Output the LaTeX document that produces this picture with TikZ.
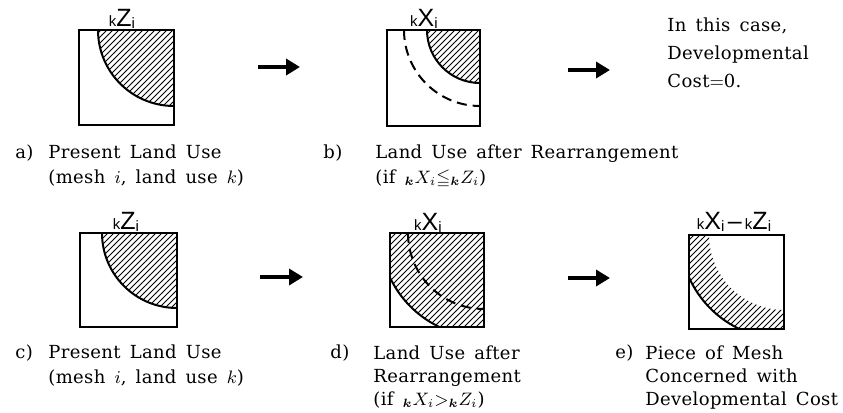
\documentclass[tikz,border=0pt]{standalone}
\usepackage{amsmath,amssymb}
\usepackage{fontspec}
\setmainfont[WordSpace=1.5,LetterSpace=2]{DejaVu Serif}
\setsansfont{Liberation Sans}
\usetikzlibrary{arrows.meta,patterns}

% small k in front, big letter, small i behind
\newcommand{\meshlbl}[1]{{\sffamily\fontsize{7.5}{8}\selectfont k}{\sffamily\fontsize{12.5}{13}\selectfont #1}{\sffamily\fontsize{7.5}{8}\selectfont\raisebox{-1pt}{i}}}

\begin{document}
\begin{tikzpicture}[x=0.5pt,y=-0.5pt,
  frame/.style={line width=1pt},
  edge/.style={line width=1pt},
  dashedge/.style={line width=1pt, dash pattern=on 5pt off 3pt},
  hatch/.style={pattern=north east lines},
  arr/.style={line width=2pt, -{Triangle[length=7pt,width=8pt]}},
  captxt/.style={anchor=base west, inner sep=0pt, align=left,
              font=\fontsize{9}{12.5}\selectfont},
  tag/.style={anchor=base west, inner sep=0pt, font=\fontsize{9}{12.5}\selectfont},
  mlbl/.style={anchor=base, inner sep=0pt}
]
\useasboundingbox (0,0) rectangle (843,413);

% a) present land use
\coordinate (trA) at (174,30);
\fill[hatch] (98,30) arc[start angle=180,end angle=90,radius=76] -- (trA) -- cycle;
\draw[edge] (98,30) arc[start angle=180,end angle=90,radius=76];
\draw[frame] (79,30) rectangle (174,125);
\node[mlbl] (lblA) at (122,26) {\meshlbl{Z}};

% b) after rearrangement, smaller
\coordinate (trB) at (480,30);
\fill[hatch] (427,30) arc[start angle=180,end angle=90,radius=53] -- (trB) -- cycle;
\draw[edge] (427,30) arc[start angle=180,end angle=90,radius=53];
\draw[dashedge] (404,30) arc[start angle=180,end angle=90,radius=76];
\draw[frame] (387,30) rectangle (480,126);
\node[mlbl] (lblB) at (424,26) {\meshlbl{X}};

% c) present land use
\coordinate (trC) at (177,233);
\fill[hatch] (102,233) arc[start angle=180,end angle=90,radius=75] -- (trC) -- cycle;
\draw[edge] (102,233) arc[start angle=180,end angle=90,radius=75];
\draw[frame] (80,233) rectangle (177,327);
\node[mlbl] (lblC) at (126,229) {\meshlbl{Z}};

% d) after rearrangement, larger
\coordinate (trD) at (484,233);
\begin{scope}
  \clip (390,233) rectangle (484,327);
  \fill[hatch] (trD) circle[radius=104];
  \draw[edge] (trD) circle[radius=104];
\end{scope}
\draw[dashedge] (408,233) arc[start angle=180,end angle=90,radius=76];
\draw[frame] (390,233) rectangle (484,327);
\node[mlbl] (lblD) at (428,230) {\meshlbl{X}};

% e) piece concerned with cost
\coordinate (trE) at (784,235);
\begin{scope}
  \clip (689,235) rectangle (784,329);
  \fill[hatch, even odd rule] (trE) circle[radius=104] (trE) circle[radius=75];
  \draw[edge] (trE) circle[radius=104];
\end{scope}
\draw[frame] (689,235) rectangle (784,329);
\node[mlbl] (lblE) at (734,229) {\meshlbl{X}\,{\sffamily\fontsize{12.5}{13}\selectfont --}\,\meshlbl{Z}};

% arrows
\coordinate (r1a) at (258,67);  \coordinate (r1b) at (300,67);
\coordinate (r1c) at (568,70);  \coordinate (r1d) at (610,70);
\coordinate (r2a) at (260,277); \coordinate (r2b) at (303,277);
\coordinate (r2c) at (568,278); \coordinate (r2d) at (610,278);
\draw[arr] (r1a) -- (r1b);
\draw[arr] (r1c) -- (r1d);
\draw[arr] (r2a) -- (r2b);
\draw[arr] (r2c) -- (r2d);

% captions (anchored at the baseline of the last line)
\node[captxt, font=\fontsize{9}{14}\selectfont] (note) at (667,87)
  {In this case,\\Developmental\\Cost${=}$0.};
\node[tag] (tagA) at (15,158) {a)};
\node[captxt] (capA) at (48,183) {Present Land Use\\(mesh $i$, land use $k$)};
\node[tag] (tagB) at (323,158) {b)};
\node[captxt] (capB) at (375,183) {Land Use after Rearrangement\\(if $_{\boldsymbol{k}}X_i{\leqq}{}_{\boldsymbol{k}}Z_i$)};
\node[tag] (tagC) at (15,358) {c)};
\node[captxt] (capC) at (48,383) {Present Land Use\\(mesh $i$, land use $k$)};
\node[tag] (tagD) at (330,358) {d)};
\node[captxt, font=\fontsize{9}{11.5}\selectfont] (capD) at (373,405) {Land Use after\\Rearrangement\\(if $_{\boldsymbol{k}}X_i{>}{}_{\boldsymbol{k}}Z_i$)};
\node[tag] (tagE) at (615,358) {e)};
\node[captxt, font=\fontsize{9}{11.5}\selectfont] (capE) at (645,405) {Piece of Mesh\\Concerned with\\Developmental Cost};
\end{tikzpicture}
\end{document}
